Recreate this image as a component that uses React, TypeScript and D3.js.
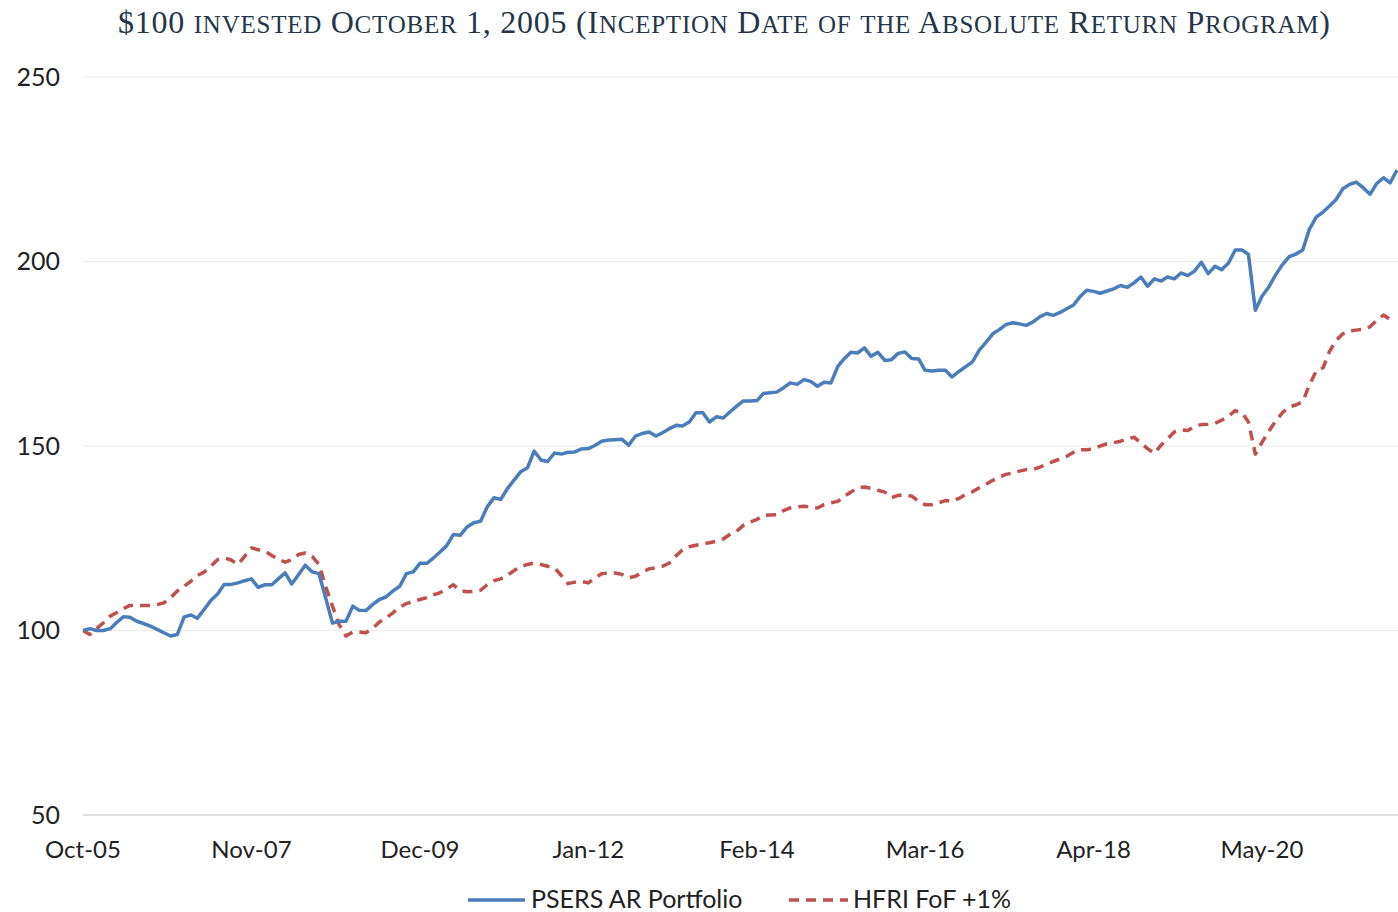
import React from 'react';
import * as d3 from 'd3';

// monthly values, Oct-05 onward
const psers = [
  100, 100.5, 100, 100, 100.5, 102.1, 103.7, 103.6, 102.5, 101.9,
  101.2, 100.3, 99.4, 98.5, 98.9, 103.7, 104.2, 103.3, 105.7, 108.1,
  109.9, 112.5, 112.5, 112.9, 113.5, 114, 111.7, 112.4, 112.4, 114,
  115.6, 112.6, 115.2, 117.7, 115.9, 115.4, 108.9, 102, 102.5, 102.5,
  106.6, 105.5, 105.4, 107, 108.4, 109.1, 110.7, 112, 115.4, 115.9,
  118.2, 118.2, 119.7, 121.2, 123, 126, 125.8, 128, 129.2, 129.6,
  133.5, 136, 135.5, 138.5, 140.9, 143, 144.1, 148.6, 146.2, 145.8,
  148.1, 147.8, 148.3, 148.4, 149.2, 149.3, 150.2, 151.3, 151.6, 151.7,
  151.8, 150.2, 152.7, 153.4, 153.8, 152.7, 153.6, 154.7, 155.6, 155.4,
  156.5, 159, 159, 156.5, 157.9, 157.6, 159.2, 160.8, 162.2, 162.2,
  162.3, 164.2, 164.4, 164.6, 165.8, 167.1, 166.7, 168, 167.5, 166.2,
  167.3, 167.1, 171.6, 173.6, 175.4, 175.2, 176.6, 174.3, 175.4, 173.2,
  173.4, 175.1, 175.5, 173.7, 173.6, 170.5, 170.3, 170.5, 170.5, 168.7,
  170.2, 171.5, 172.8, 176, 178.1, 180.4, 181.6, 182.9, 183.4, 183.1,
  182.7, 183.6, 185, 185.9, 185.4, 186.2, 187.2, 188.2, 190.6, 192.2,
  191.9, 191.4, 192, 192.6, 193.5, 193, 194.2, 195.8, 193.3, 195.3,
  194.7, 195.8, 195.3, 196.9, 196.2, 197.4, 199.8, 196.7, 198.7, 197.8,
  199.5, 203.1, 203.1, 201.9, 186.8, 190.6, 193.1, 196.3, 199.1, 201.3,
  202, 203.1, 208.7, 212, 213.4, 215, 216.8, 219.7, 220.9, 221.5,
  220, 218.2, 221.1, 222.7, 221.3, 224.8,
];

const hfri = [
  100, 98.9, 100.5, 102.1, 103.9, 104.8, 105.9, 106.8, 106.8, 106.8,
  106.8, 107, 107.5, 108.9, 110.7, 112, 113.4, 114.9, 115.8, 117.4,
  119.2, 119.7, 119.1, 117.9, 120.1, 122.4, 121.9, 121.5, 120.3, 119.4,
  118.5, 119.2, 120.6, 121, 120.1, 117.9, 112, 106.6, 101.6, 98.5,
  99.6, 99.6, 99.4, 100.5, 102.3, 103.4, 104.8, 106.3, 107.3, 107.9,
  108.4, 108.9, 109.7, 110.2, 111.3, 112.4, 110.8, 110.5, 110.6, 110.9,
  112.4, 113.5, 114, 115, 116.3, 117.3, 117.9, 118.3, 117.9, 117.4,
  117, 114.9, 112.7, 113.1, 113.3, 112.9, 114.3, 115.4, 115.6, 115.6,
  115.2, 114.3, 114.7, 115.8, 116.7, 117, 117.4, 118.3, 120.3, 121.8,
  122.7, 123.1, 123.5, 123.8, 124.2, 124.8, 126, 126.9, 128.5, 129.4,
  130.1, 131.2, 131.3, 131.4, 132.5, 133.2, 133.5, 133.7, 133.5, 133.2,
  134.1, 134.6, 135, 136.4, 137.5, 138.7, 138.9, 138.5, 138, 137.5,
  136, 136.6, 136.8, 136.4, 135, 134.1, 134.1, 134.6, 135.2, 135,
  135.8, 136.9, 137.6, 138.7, 139.6, 140.7, 141.6, 142.3, 142.7, 143.2,
  143.6, 143.6, 144.3, 145, 145.8, 146.5, 147.2, 148.3, 149, 149,
  149.2, 150, 150.6, 150.9, 151.3, 151.9, 152.4, 150.8, 149.3, 148,
  150.3, 151.9, 153.8, 154.4, 154.2, 155.3, 155.8, 155.9, 156.1, 157,
  158, 159.6, 159, 156.5, 147.8, 151, 154, 156.7, 159, 160.6,
  161.1, 162, 166.5, 170.3, 171.2, 175.5, 178.6, 180.4, 181.2, 181.4,
  181.6, 182.3, 184, 185.5, 184.3,
];

const startMonth = new Date(2005, 9, 1);
const months = d3.timeMonth.range(startMonth, d3.timeMonth.offset(startMonth, psers.length));
const labelEvery = 25;
const yTicks = [50, 100, 150, 200, 250];
const seriesNames = ['PSERS AR Portfolio', 'HFRI FoF +1%'];
const title = '$100 invested October 1, 2005 (Inception Date of the Absolute Return Program)';

const W = 1398;
const H = 912;

// split title into runs so lowercase letters can be drawn as small capitals
function smallCapRuns(s: string) {
  const runs: { text: string; small: boolean }[] = [];
  for (const ch of s) {
    const small = ch >= 'a' && ch <= 'z';
    const last = runs[runs.length - 1];
    if (last && last.small === small) last.text += ch;
    else runs.push({ text: ch, small });
  }
  return runs;
}

export default function App() {
  const x = d3.scaleTime()
    .domain([months[0], months[months.length - 1]])
    .range([83, 1397]);
  const y = d3.scaleLinear().domain([50, 250]).range([815, 77]);

  const line = d3.line<number>()
    .x((_, i) => x(months[i]))
    .y(d => y(d));

  const tickMonths = months.filter((_, i) => i % labelEvery === 0);
  const fmt = d3.timeFormat('%b-%y');
  const font = 'Lato, "Open Sans", sans-serif';

  return (
    <svg width={W} height={H} style={{ position: 'absolute', left: 0, top: 0, background: '#fff' }}>
      <text
        x={724}
        y={33}
        textAnchor="middle"
        fontFamily='"Liberation Serif", "DejaVu Serif", serif'
        fontSize={32}
        fill="#25364a"
        textLength={1212}
        lengthAdjust="spacing"
      >
        {smallCapRuns(title).map((r, i) => (
          <tspan key={i} fontSize={r.small ? 25 : 32}>{r.small ? r.text.toUpperCase() : r.text}</tspan>
        ))}
      </text>

      {/* gridlines */}
      {yTicks.map(t => (
        <line
          key={t}
          x1={83}
          x2={W}
          y1={y(t)}
          y2={y(t)}
          stroke={t === 50 ? '#d6d6d6' : '#ebebeb'}
          strokeWidth={t === 50 ? 1.5 : 1}
        />
      ))}
      {yTicks.map(t => (
        <text key={t} x={60} y={y(t)} dy="0.35em" textAnchor="end" fontFamily={font} fontSize={25} fill="#222">
          {t}
        </text>
      ))}
      {tickMonths.map(m => (
        <text key={+m} x={x(m)} y={858} textAnchor="middle" fontFamily={font} fontSize={24} fill="#222">
          {fmt(m)}
        </text>
      ))}

      <path d={line(hfri) || ''} fill="none" stroke="#c0504d" strokeWidth={3.5} strokeDasharray="10,7" strokeLinejoin="round" />
      <path d={line(psers) || ''} fill="none" stroke="#4a7ebb" strokeWidth={3.5} strokeLinejoin="round" />

      {/* legend */}
      <g fontFamily={font} fontSize={25} fill="#222">
        <line x1={468} x2={525} y1={900} y2={900} stroke="#4a7ebb" strokeWidth={3.5} />
        <text x={531} y={908}>{seriesNames[0]}</text>
        <line x1={789} x2={848} y1={900} y2={900} stroke="#c0504d" strokeWidth={3.5} strokeDasharray="10,7" />
        <text x={853} y={908}>{seriesNames[1]}</text>
      </g>
    </svg>
  );
}
